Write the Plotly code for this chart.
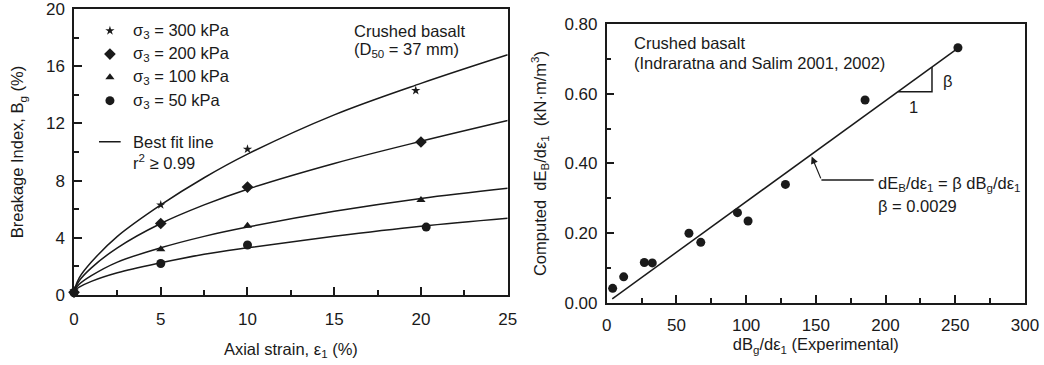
import plotly.graph_objects as go

# ---------------- Left panel data: breakage index vs axial strain ----------------
strain_300 = [0, 5, 10, 19.7]
bg_300 = [0.3, 6.3, 10.2, 14.3]
strain_200 = [0, 5, 10, 20]
bg_200 = [0.2, 5.0, 7.55, 10.7]
strain_100 = [0, 5, 10, 20]
bg_100 = [0.3, 3.2, 4.85, 6.65]
strain_50 = [0, 5, 10, 20.3]
bg_50 = [0.15, 2.2, 3.5, 4.75]

# best-fit curves
fit_strain = [0, 0.3, 1, 2.5, 5, 7.5, 10, 15, 20, 25]
fit_300 = [0.3, 1.2, 2.3, 4.1, 6.3, 8.2, 9.85, 12.6, 14.8, 16.8]
fit_200 = [0.3, 1.0, 1.9, 3.3, 5.0, 6.3, 7.4, 9.2, 10.75, 12.2]
fit_100 = [0.3, 0.75, 1.35, 2.3, 3.3, 4.1, 4.75, 5.85, 6.75, 7.46]
fit_50 = [0.3, 0.55, 0.95, 1.55, 2.25, 2.85, 3.3, 4.1, 4.8, 5.36]

# ---------------- Right panel data ----------------
exp_dbg = [4.3, 12.2, 27, 32.7, 59, 67.5, 93.8, 101.4, 128.2, 185.3, 251.9]
comp_deb = [0.042, 0.075, 0.116, 0.115, 0.200, 0.174, 0.259, 0.235, 0.340, 0.582, 0.732]
fit_line_x = [4, 252]
fit_line_y = [0.012, 0.731]
slope_tri_x = [209, 233.3, 233.3]
slope_tri_y = [0.606, 0.606, 0.677]
leader_x = [191.5, 154]
leader_y = [0.353, 0.353]

FONT = "Liberation Sans, Arial, sans-serif"
INK = "#1a1a1a"
TXT = 16.5
TICK = 17
fig = go.Figure()

def pts(x, y, sym, size, xa="x", ya="y"):
    fig.add_trace(go.Scatter(x=x, y=y, mode="markers", xaxis=xa, yaxis=ya,
                             marker=dict(symbol=sym, size=size, color=INK),
                             cliponaxis=False, showlegend=False))

def line(x, y, xa="x", ya="y", shape="linear"):
    fig.add_trace(go.Scatter(x=x, y=y, mode="lines", xaxis=xa, yaxis=ya,
                             line=dict(color=INK, width=1.5, shape=shape),
                             showlegend=False, hoverinfo="skip"))

for fy in (fit_300, fit_200, fit_100, fit_50):
    line(fit_strain, fy, shape="spline")
pts(strain_300, bg_300, "star", 7)
pts(strain_200, bg_200, "diamond", 9)
pts(strain_100, bg_100, "triangle-up", 8)
pts(strain_50, bg_50, "circle", 9)

# legend-like keys on left panel
leg_x = [2.07]
pts(leg_x, [18.48], "star", 7)
pts(leg_x, [16.85], "diamond", 9)
pts(leg_x, [15.22], "triangle-up", 8)
pts(leg_x, [13.59], "circle", 9)
line([1.44, 2.69], [10.72, 10.72])

# right panel
line(fit_line_x, fit_line_y, "x2", "y2")
line(slope_tri_x, slope_tri_y, "x2", "y2")
line(leader_x, leader_y, "x2", "y2")
pts(exp_dbg, comp_deb, "circle", 9, "x2", "y2")

ann = []
def txt(x, y, t, xref="x", yref="y", xanchor="left"):
    ann.append(dict(x=x, y=y, xref=xref, yref=yref, text=t, showarrow=False,
                    xanchor=xanchor, yanchor="middle",
                    font=dict(family=FONT, size=TXT, color=INK)))

txt(3.3, 18.48, "σ<sub>3</sub> = 300 kPa")
txt(3.3, 16.85, "σ<sub>3</sub> = 200 kPa")
txt(3.3, 15.22, "σ<sub>3</sub> = 100 kPa")
txt(3.3, 13.59, "σ<sub>3</sub> = 50 kPa")
txt(3.3, 10.72, "Best fit line")
txt(3.3, 9.28, "r<sup>2</sup> ≥ 0.99")
txt(16.0, 18.48, "Crushed basalt")
txt(16.0, 17.13, "(D<sub>50</sub> = 37 mm)")

txt(18, 0.746, "Crushed basalt", "x2", "y2")
txt(18, 0.689, "(Indraratna and Salim 2001, 2002)", "x2", "y2")
txt(240, 0.638, "β", "x2", "y2")
txt(220.4, 0.561, "1", "x2", "y2", "center")
txt(193, 0.342, "dE<sub>B</sub>/dε<sub>1</sub> = β dB<sub>g</sub>/dε<sub>1</sub>", "x2", "y2")
txt(193, 0.278, "β = 0.0029", "x2", "y2")
ann.append(dict(x=147, y=0.42, xref="x2", yref="y2", ax=154, ay=0.353,
                axref="x2", ayref="y2", text="", showarrow=True,
                arrowhead=2, arrowsize=1.2, arrowwidth=1.2, arrowcolor=INK))

axis_common = dict(showline=True, linecolor=INK, linewidth=1.5, mirror=True,
                   ticks="inside", ticklen=8, tickwidth=1.5, tickcolor=INK,
                   showgrid=False, zeroline=False, automargin=False,
                   ticklabeloverflow="allow",
                   tickfont=dict(family=FONT, size=TICK, color=INK),
                   title_font=dict(family=FONT, size=TXT, color=INK))

fig.update_layout(
    width=1044, height=365,
    margin=dict(l=0, r=0, t=0, b=0),
    paper_bgcolor="white", plot_bgcolor="white",
    font=dict(family=FONT, size=TXT, color=INK),
    annotations=ann,
    xaxis=dict(axis_common, domain=[0.0709, 0.4863], range=[0, 25], dtick=5,
               minor=dict(dtick=2.5, ticks="inside", ticklen=5, tickcolor=INK, tickwidth=1.5),
               ticklabelstandoff=8,
               title=dict(text="Axial strain, ε<sub>1</sub> (%)", standoff=15),
               anchor="y"),
    yaxis=dict(axis_common, domain=[0.1918, 0.9753], range=[0, 20], dtick=4,
               minor=dict(dtick=2, ticks="inside", ticklen=5, tickcolor=INK, tickwidth=1.5),
               ticklabelstandoff=4,
               title=dict(text="Breakage Index, B<sub>g</sub> (%)", standoff=18),
               anchor="x"),
    xaxis2=dict(axis_common, domain=[0.5811, 0.9818], range=[0, 300], dtick=50,
                minor=dict(dtick=25, ticks="inside", ticklen=5, tickcolor=INK, tickwidth=1.5),
                ticklabelstandoff=6,
                title=dict(text="dB<sub>g</sub>/dε<sub>1</sub> (Experimental)", standoff=2),
                anchor="y2"),
    yaxis2=dict(axis_common, domain=[0.1699, 0.9342], range=[0, 0.8], dtick=0.2,
                tickformat=".2f", ticklabelstandoff=4,
                minor=dict(dtick=0.1, ticks="inside", ticklen=5, tickcolor=INK, tickwidth=1.5),
                title=dict(text="Computed  dE<sub>B</sub>/dε<sub>1</sub>  (kN·m/m<sup>3</sup>)", standoff=14),
                anchor="x2"),
)

fig.write_html("out.html", config={"displayModeBar": False},
               post_script="document.body.style.margin='0';document.body.style.overflow='hidden';")
